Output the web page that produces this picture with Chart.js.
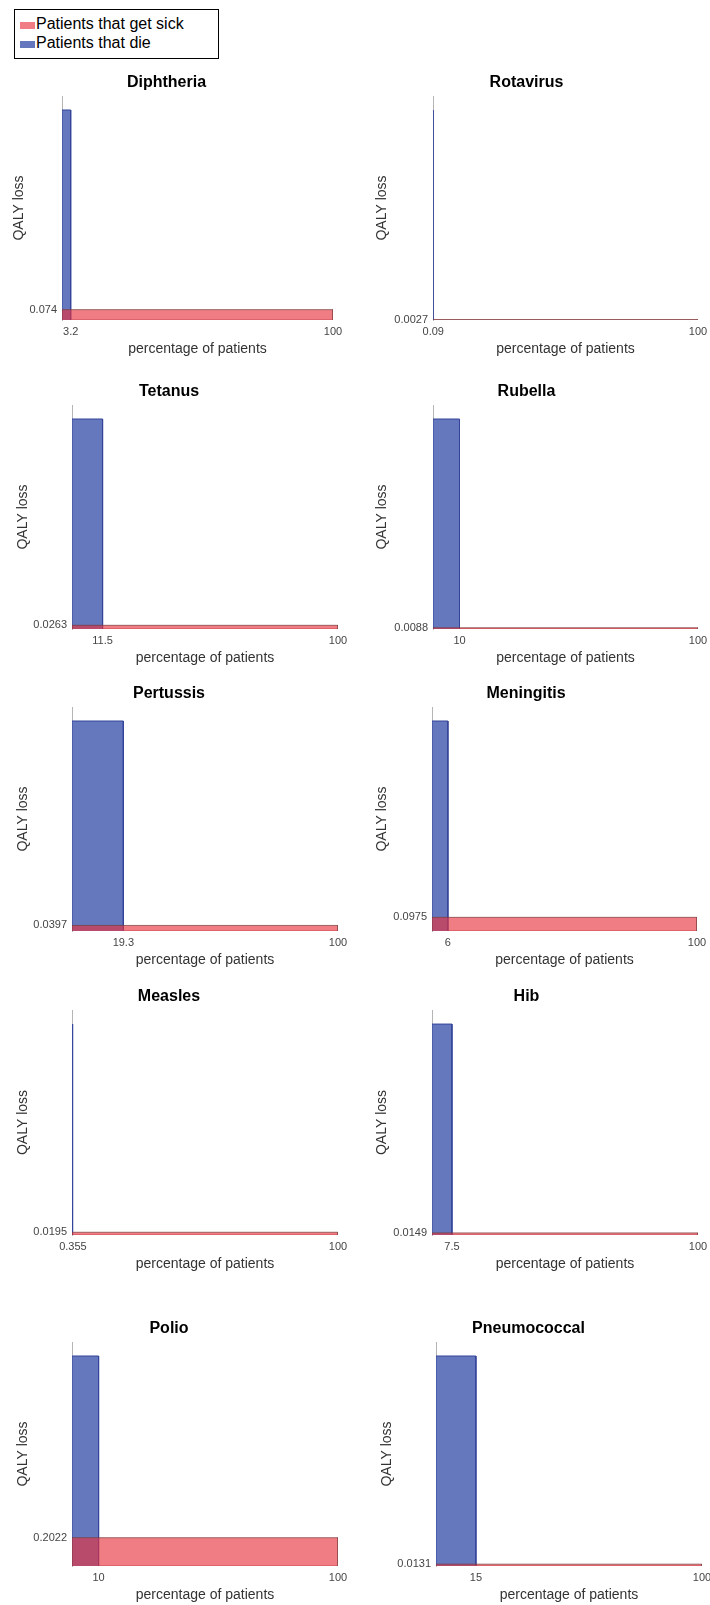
<!DOCTYPE html>
<html>
<head>
<meta charset="utf-8">
<script src="https://cdn.jsdelivr.net/npm/chart.js@4.4.1/dist/chart.umd.min.js"></script>
<style>
  body { margin: 0; width: 710px; height: 1605px; overflow: hidden; background: #fff; position: relative;
         font-family: "Liberation Sans", Arial, sans-serif; }
  canvas { position: absolute; }
  #legend { position: absolute; left: 14px; top: 9px; width: 205px; height: 50px; border: 1.5px solid #000; box-sizing: border-box; }
  .item { position: absolute; left: 5px; font-size: 16px; line-height: 19px; color: #000; white-space: nowrap; }
  .sw { display: inline-block; width: 15px; height: 7px; margin-right: 1px; }
</style>
</head>
<body>
<div id="legend"></div>
<script>
// values
const diseases = ['Diphtheria', 'Rotavirus', 'Tetanus', 'Rubella', 'Pertussis', 'Meningitis', 'Measles', 'Hib', 'Polio', 'Pneumococcal'];
const qalyLoss = [0.074, 0.0027, 0.0263, 0.0088, 0.0397, 0.0975, 0.0195, 0.0149, 0.2022, 0.0131];
const qalyLabels = ['0.074', '0.0027', '0.0263', '0.0088', '0.0397', '0.0975', '0.0195', '0.0149', '0.2022', '0.0131'];
const deathPct = [3.2, 0.09, 11.5, 10, 19.3, 6, 0.355, 7.5, 10, 15];
const deathLabels = ['3.2', '0.09', '11.5', '10', '19.3', '6', '0.355', '7.5', '10', '15'];
const deathHeight = [1.5, 1.5, 1.5, 1.5, 1.5, 1.5, 1.5, 1.5, 1.5, 1.5];
const seriesNames = ['Patients that get sick', 'Patients that die'];
const yMax = 1.6;

const redFill = 'rgba(232, 50, 62, 0.64)', redEdge = 'rgba(120, 60, 60, 0.7)';
const blueFill = '#6578bd', blueEdge = '#33449a';

// where each plot area sits on the page (left, right, top, bottom, centre of y title)
const boxes = [
  [62, 333, 96, 320, 19], [433, 698, 96, 320, 382],
  [72, 338, 405, 629, 23], [433, 698, 405, 629, 382],
  [72, 338, 707, 931, 23], [432, 697, 707, 931, 382],
  [72, 338, 1010, 1235, 23], [432, 698, 1010, 1235, 382],
  [72, 338, 1342, 1566, 23], [436, 702, 1342, 1566, 387]
];

Chart.defaults.font.family = '"Liberation Sans", Arial, sans-serif';

// legend
const lg = document.getElementById('legend');
[redFill, blueFill].forEach((col, k) => {
  const d = document.createElement('div');
  d.className = 'item';
  d.style.top = (4 + k * 19) + 'px';
  d.innerHTML = '<span class="sw" style="background:' + col + '"></span>' + seriesNames[k];
  lg.appendChild(d);
});

// open outline: the filler closes it along y = 0
function rect(w, h) {
  return [{x: 0, y: 0}, {x: 0, y: h}, {x: w, y: h}, {x: w, y: 0}];
}

diseases.forEach((name, i) => {
  const [left, right, top, bottom, yTitleX] = boxes[i];
  const cx = i % 2 ? 355 : 0;
  const cw = i % 2 ? 365 : 355;
  const ctop = top - 36;
  const ch = bottom - top + 36 + 40;
  const c = document.createElement('canvas');
  c.width = cw; c.height = ch;
  c.style.left = cx + 'px'; c.style.top = ctop + 'px';
  c.style.width = cw + 'px'; c.style.height = ch + 'px';
  document.body.appendChild(c);

  new Chart(c, {
    type: 'line',
    data: {
      datasets: [
        { label: seriesNames[0], data: rect(100, qalyLoss[i]), fill: 'origin', backgroundColor: redFill,
          borderColor: redEdge, borderWidth: 1, pointRadius: 0, tension: 0 },
        { label: seriesNames[1], data: rect(deathPct[i], deathHeight[i]), fill: 'origin', backgroundColor: blueFill,
          borderColor: blueEdge, borderWidth: 1, pointRadius: 0, tension: 0 },
        // bottom edge of the sick bar
        { label: '', data: [{x: 0, y: 0}, {x: 100, y: 0}], fill: false, borderColor: redEdge,
          borderWidth: 1, pointRadius: 0 }
      ]
    },
    options: {
      responsive: false,
      animation: false,
      layout: { padding: { left: 0, right: cw - (right - cx), top: 0, bottom: 0 } },
      plugins: {
        legend: { display: false },
        tooltip: { enabled: false },
        title: { display: true, text: name, color: '#000', font: { size: 16, weight: 'bold' },
                 padding: { top: 13.4, bottom: 3.4 } }
      },
      scales: {
        x: {
          type: 'linear', min: 0, max: 100,
          grid: { display: false, drawTicks: false },
          border: { display: false },
          afterBuildTicks: s => { s.ticks = [{ value: deathPct[i] }, { value: 100 }]; },
          ticks: { autoSkip: false, maxRotation: 0, padding: 5, color: '#444', font: { size: 11 },
                   callback: v => v === 100 ? '100' : deathLabels[i] },
          title: { display: true, text: 'percentage of patients', color: '#333', font: { size: 14 },
                   padding: { top: 0, bottom: 2.6 } },
          afterFit: s => { s.height = 40; }
        },
        y: {
          min: 0, max: yMax,
          grid: { display: false, drawTicks: false },
          border: { display: true, color: '#b5b5b5', width: 1 },
          afterBuildTicks: s => { s.ticks = [{ value: qalyLoss[i] }]; },
          ticks: { padding: 5, color: '#444', font: { size: 11 }, callback: () => qalyLabels[i] },
          title: { display: true, text: 'QALY loss', color: '#333', font: { size: 14 },
                   padding: { top: yTitleX - cx - 8.4, bottom: 0 } },
          afterFit: s => { s.width = left - cx; }
        }
      }
    }
  });
});
</script>
</body>
</html>
